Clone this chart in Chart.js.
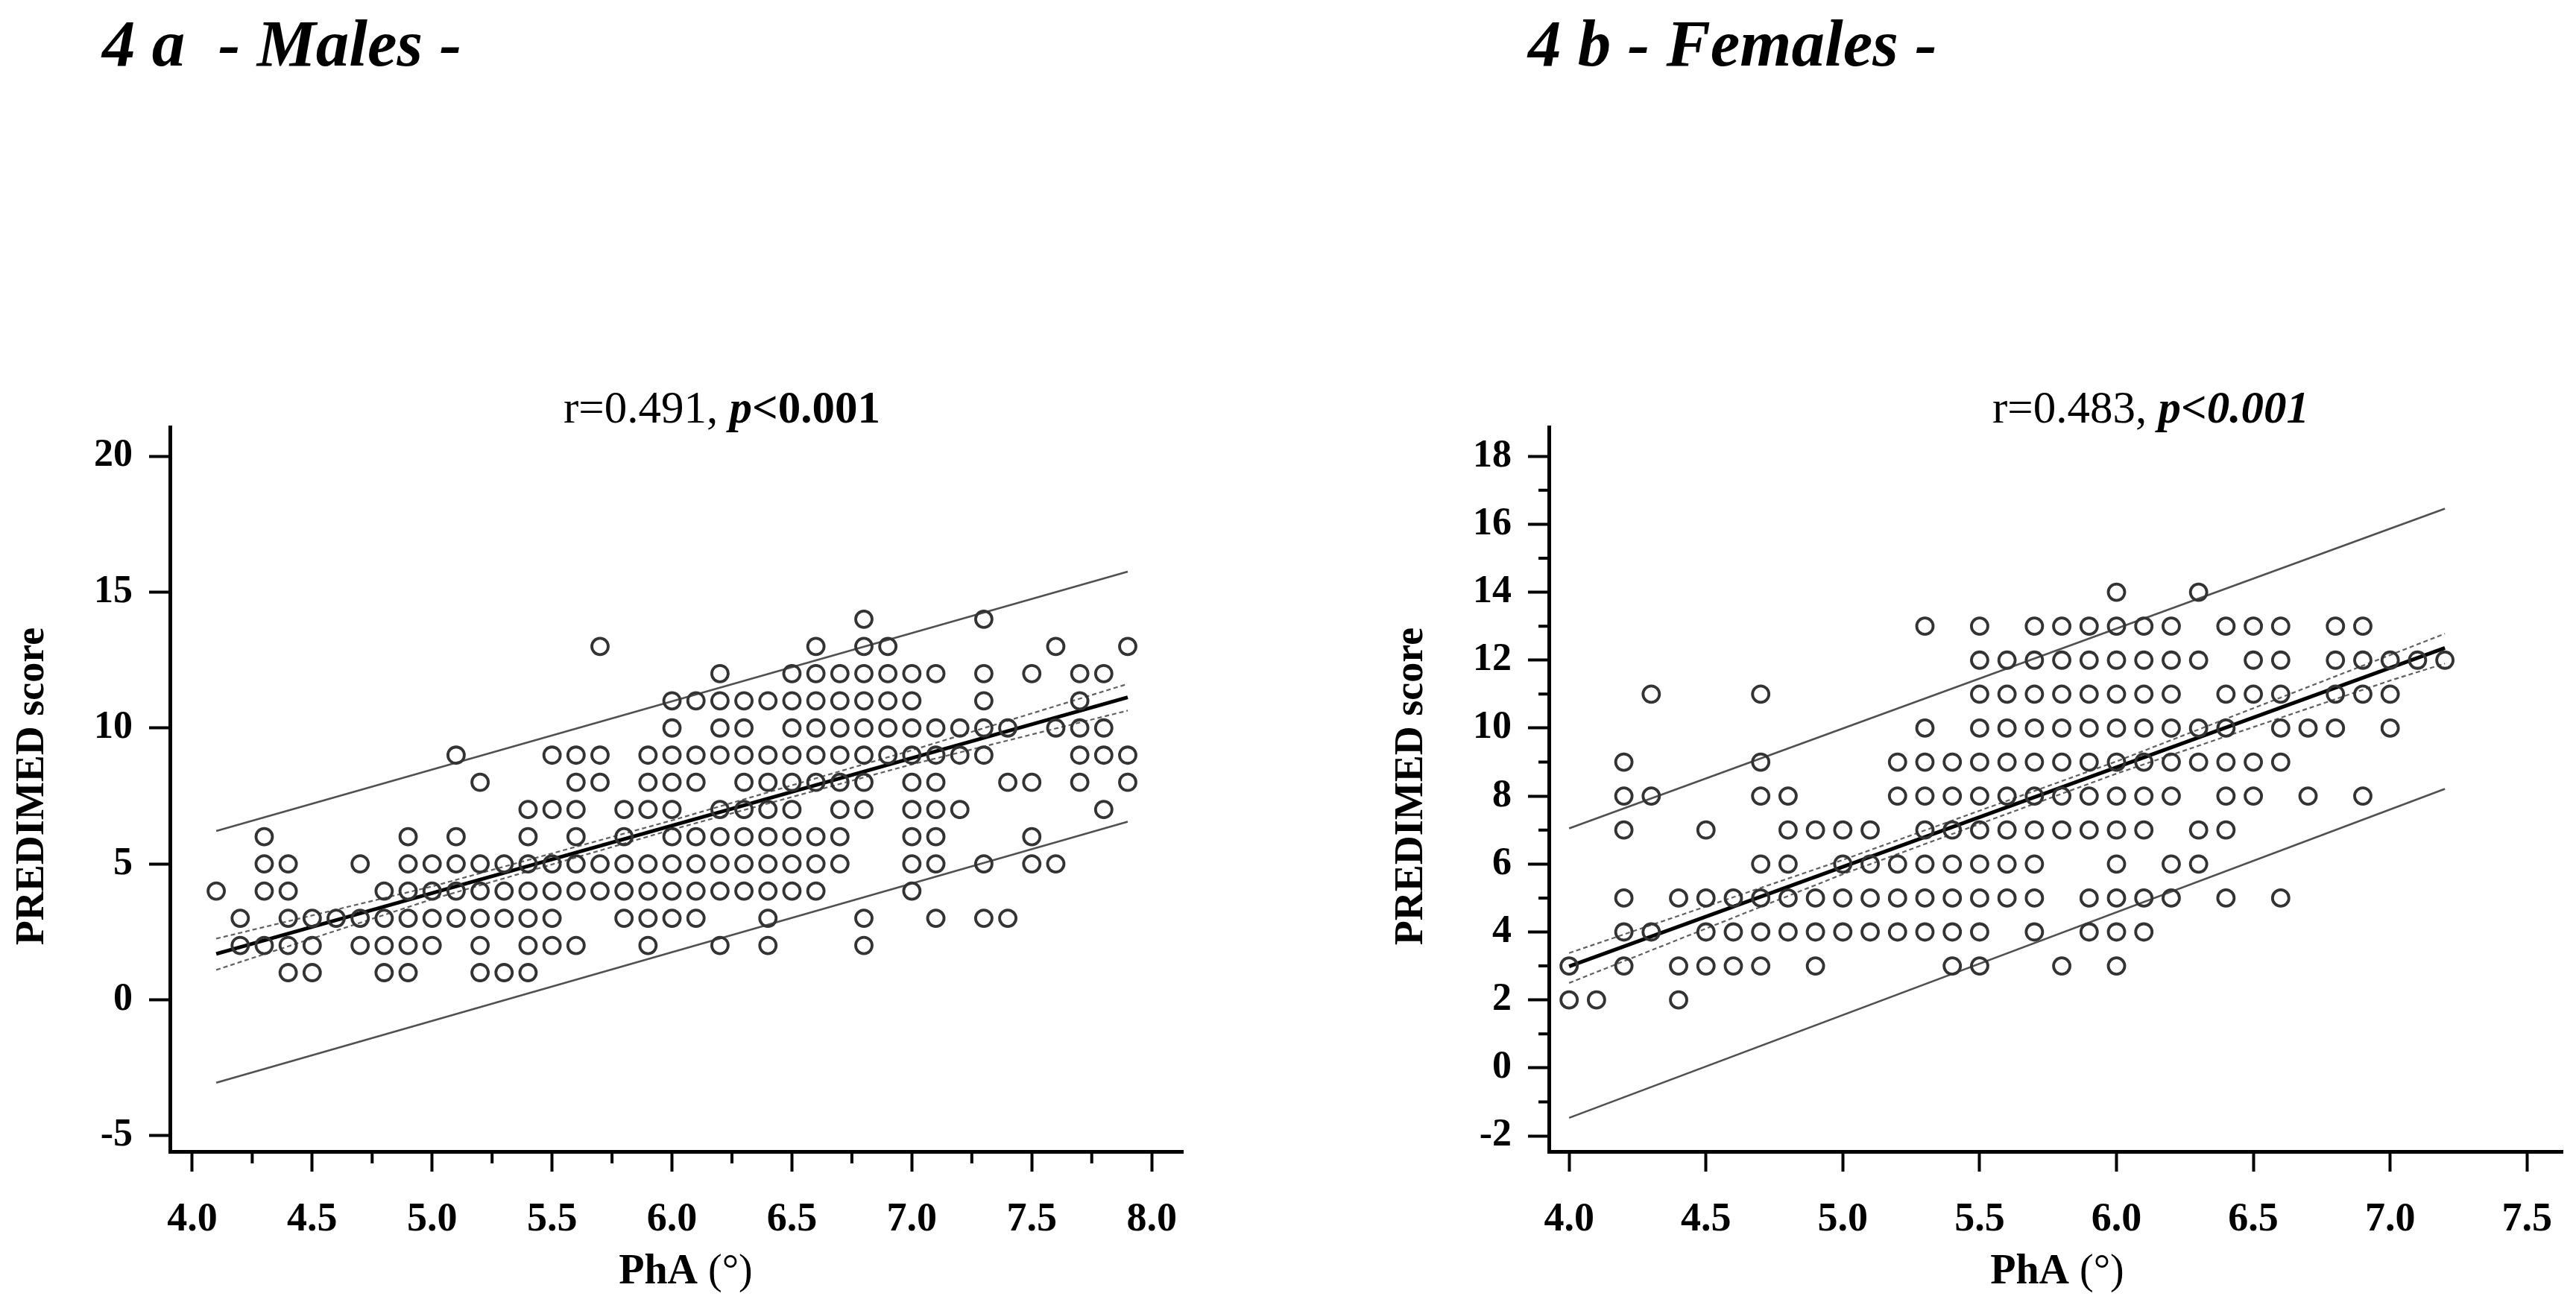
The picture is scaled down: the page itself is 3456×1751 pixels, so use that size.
<!DOCTYPE html>
<html>
<head>
<meta charset="utf-8">
<title>PhA vs PREDIMED score</title>
<script src="https://cdn.jsdelivr.net/npm/chart.js@4.4.1/dist/chart.umd.min.js"></script>
<style>
  html, body { margin: 0; padding: 0; background: #fff; }
  #wrap { position: relative; width: 3456px; height: 1751px; }
  canvas { position: absolute; top: 0; }
  #malesChart { left: 0; }
  #femalesChart { left: 1728px; }
</style>
</head>
<body>
<div id="wrap">
  <canvas id="malesChart" width="1728" height="1751"></canvas>
  <canvas id="femalesChart" width="1728" height="1751"></canvas>
</div>
<script>
// ---- Males (4 a) ----
const maleX = [4.1, 4.2, 4.3, 4.4, 4.5, 4.6, 4.7, 4.8, 4.9, 5.0,
               5.1, 5.2, 5.3, 5.4, 5.5, 5.6, 5.7, 5.8, 5.9, 6.0,
               6.1, 6.2, 6.3, 6.4, 6.5, 6.6, 6.7, 6.8, 6.9, 7.0,
               7.1, 7.2, 7.3, 7.4, 7.5, 7.6, 7.7, 7.8, 7.9];
// PREDIMED scores observed at each PhA value (one circle each)
const maleScores = [
  [4], [3, 2], [6, 5, 4, 2], [5, 4, 3, 2, 1], [3, 2, 1], [3], [5, 3, 2], [4, 3, 2, 1],
  [6, 5, 4, 3, 2, 1], [5, 4, 3, 2], [9, 6, 5, 4, 3], [8, 5, 4, 3, 2, 1], [5, 4, 3, 1],
  [7, 6, 5, 4, 3, 2, 1], [9, 7, 5, 4, 3, 2], [9, 8, 7, 6, 5, 4, 2], [13, 9, 8, 5, 4],
  [7, 6, 5, 4, 3], [9, 8, 7, 5, 4, 3, 2], [11, 10, 9, 8, 7, 6, 5, 4, 3],
  [11, 9, 8, 6, 5, 4, 3], [12, 11, 10, 9, 7, 6, 5, 4, 2], [11, 10, 9, 8, 7, 6, 5, 4],
  [11, 9, 8, 7, 6, 5, 4, 3, 2], [12, 11, 10, 9, 8, 7, 6, 5, 4], [13, 12, 11, 10, 9, 8, 6, 5, 4],
  [12, 11, 10, 9, 8, 7, 6, 5], [14, 13, 12, 11, 10, 9, 8, 7, 3, 2], [13, 12, 11, 10, 9],
  [12, 11, 10, 9, 8, 7, 6, 5, 4], [12, 10, 9, 8, 7, 6, 5, 3], [10, 9, 7],
  [14, 12, 11, 10, 9, 5, 3], [10, 8, 3], [12, 8, 6, 5], [13, 10, 5], [12, 11, 10, 9, 8],
  [12, 10, 9, 7], [13, 9, 8]
];
const maleFitX = [4.1, 7.9];
const maleFit = [1.69, 11.13];
const maleBandX = [4.1, 5.0, 6.0, 7.0, 7.9];
const maleCIUpper = [2.25, 4.17, 6.6, 9.18, 11.62];
const maleCILower = [1.1, 3.7, 6.26, 8.66, 10.64];
const malePIUpper = [6.21, 15.75];
const malePILower = [-3.05, 6.55];
const maleXTicks = [4.0, 4.5, 5.0, 5.5, 6.0, 6.5, 7.0, 7.5, 8.0];
const maleXMinor = [4.25, 4.75, 5.25, 5.75, 6.25, 6.75, 7.25, 7.75];
const maleYTicks = [-5, 0, 5, 10, 15, 20];

// ---- Females (4 b) ----
const femaleX = [4.0, 4.1, 4.2, 4.3, 4.4, 4.5, 4.6, 4.7, 4.8, 4.9, 5.0,
                 5.1, 5.2, 5.3, 5.4, 5.5, 5.6, 5.7, 5.8, 5.9, 6.0,
                 6.1, 6.2, 6.3, 6.4, 6.5, 6.6, 6.7, 6.8, 6.9, 7.0, 7.1, 7.2];
const femaleScores = [
  [3, 2], [2], [9, 8, 7, 5, 4, 3], [11, 8, 4], [5, 3, 2], [7, 5, 4, 3], [5, 4, 3],
  [11, 9, 8, 6, 5, 4, 3], [8, 7, 6, 5, 4], [7, 5, 4, 3], [7, 6, 5, 4], [7, 6, 5, 4],
  [9, 8, 6, 5, 4], [13, 10, 9, 8, 7, 6, 5, 4], [9, 8, 7, 6, 5, 4, 3],
  [13, 12, 11, 10, 9, 8, 7, 6, 5, 4, 3], [12, 11, 10, 9, 8, 7, 6, 5],
  [13, 12, 11, 10, 9, 8, 7, 6, 5, 4], [13, 12, 11, 10, 9, 8, 7, 3],
  [13, 12, 11, 10, 9, 8, 7, 5, 4], [14, 13, 12, 11, 10, 9, 8, 7, 6, 5, 4, 3],
  [13, 12, 11, 10, 9, 8, 7, 5, 4], [13, 12, 11, 10, 9, 8, 6, 5], [14, 12, 10, 9, 7, 6],
  [13, 11, 10, 9, 8, 7, 5], [13, 12, 11, 9, 8], [13, 12, 11, 10, 9, 5], [10, 8],
  [13, 12, 11, 10], [13, 12, 11, 8], [12, 11, 10], [12], [12]
];
const femaleFitX = [4.0, 7.2];
const femaleFit = [2.99, 12.36];
const femaleBandX = [4.0, 5.0, 6.0, 7.0, 7.2];
const femaleCIUpper = [3.38, 6.12, 9.02, 12.15, 12.78];
const femaleCILower = [2.5, 5.7, 8.66, 11.4, 11.9];
const femalePIUpper = [7.05, 16.46];
const femalePILower = [-1.47, 8.21];
const femaleXTicks = [4.0, 4.5, 5.0, 5.5, 6.0, 6.5, 7.0, 7.5];
const femaleYTicks = [-2, 0, 2, 4, 6, 8, 10, 12, 14, 16, 18];
const femaleYMinor = [-1, 1, 3, 5, 7, 9, 11, 13, 15, 17];

const SERIF = "'Liberation Serif', 'Times New Roman', serif";

function toPoints(xs, scores) {
  const pts = [];
  xs.forEach((x, i) => scores[i].forEach(y => pts.push({ x: x, y: y })));
  return pts;
}

function pairUp(xs, ys) {
  return xs.map((x, i) => ({ x: x, y: ys[i] }));
}

function lineSet(points, width, color, dash) {
  return {
    data: points,
    showLine: true,
    borderColor: color,
    borderWidth: width,
    borderDash: dash || [],
    pointRadius: 0,
    pointHoverRadius: 0,
    tension: 0,
    fill: false
  };
}

// Mixed-font labels (titles, r / p, axis titles)
function makeTextPlugin(items) {
  return {
    id: 'panelText',
    afterDraw(chart) {
      const ctx = chart.ctx;
      items.forEach(item => {
        ctx.save();
        ctx.translate(item.x, item.y);
        if (item.rotate) ctx.rotate(item.rotate);
        ctx.fillStyle = '#000';
        ctx.textBaseline = 'alphabetic';
        ctx.textAlign = 'left';
        let total = 0;
        item.parts.forEach(p => { ctx.font = p.font; total += ctx.measureText(p.text).width; });
        let x = item.center ? -total / 2 : 0;
        item.parts.forEach(p => {
          ctx.font = p.font;
          ctx.fillText(p.text, x, 0);
          x += ctx.measureText(p.text).width;
        });
        ctx.restore();
      });
    }
  };
}

// Minor tick marks, placed with the chart's own scales
function makeMinorTicks(xMinor, yMinor) {
  return {
    id: 'minorTicks',
    afterDraw(chart) {
      const ctx = chart.ctx;
      const area = chart.chartArea;
      ctx.save();
      ctx.strokeStyle = '#000';
      ctx.lineWidth = 4;
      ctx.beginPath();
      xMinor.forEach(v => {
        const px = chart.scales.x.getPixelForValue(v);
        ctx.moveTo(px, area.bottom);
        ctx.lineTo(px, area.bottom + 16);
      });
      yMinor.forEach(v => {
        const py = chart.scales.y.getPixelForValue(v);
        ctx.moveTo(area.left, py);
        ctx.lineTo(area.left - 14, py);
      });
      ctx.stroke();
      ctx.restore();
    }
  };
}

function buildChart(canvasId, cfg) {
  const datasets = [
    {
      data: toPoints(cfg.xs, cfg.scores),
      pointStyle: 'circle',
      pointRadius: 11,
      pointHoverRadius: 11,
      pointBorderWidth: 3.8,
      pointBorderColor: '#333',
      pointBackgroundColor: 'rgba(255,255,255,0)',
      showLine: false
    },
    lineSet(pairUp(cfg.fitX, cfg.piUpper), 2.6, '#505050'),
    lineSet(pairUp(cfg.fitX, cfg.piLower), 2.6, '#505050'),
    lineSet(pairUp(cfg.bandX, cfg.ciUpper), 2.2, '#606060', [6, 4]),
    lineSet(pairUp(cfg.bandX, cfg.ciLower), 2.2, '#606060', [6, 4]),
    lineSet(pairUp(cfg.fitX, cfg.fit), 5, '#000')
  ];

  return new Chart(document.getElementById(canvasId), {
    type: 'scatter',
    data: { datasets: datasets },
    options: {
      responsive: false,
      animation: false,
      events: [],
      layout: { padding: cfg.padding },
      plugins: { legend: { display: false }, tooltip: { enabled: false } },
      scales: {
        x: {
          type: 'linear',
          min: cfg.xRange[0],
          max: cfg.xRange[1],
          afterBuildTicks: s => { s.ticks = cfg.xTicks.map(v => ({ value: v })); },
          afterFit: s => { s.height = 206; s.paddingLeft = 0; s.paddingRight = 0; },
          ticks: {
            autoSkip: false,
            maxRotation: 0,
            padding: 33,
            color: '#000',
            font: { family: SERIF, size: 54, weight: 'bold' },
            callback: v => Number(v).toFixed(1)
          },
          grid: { display: true, drawOnChartArea: false, drawTicks: true, tickLength: 27, tickWidth: 4, tickColor: '#000' },
          border: { display: true, color: '#000', width: 5 }
        },
        y: {
          type: 'linear',
          min: cfg.yRange[0],
          max: cfg.yRange[1],
          afterBuildTicks: s => { s.ticks = cfg.yTicks.map(v => ({ value: v })); },
          afterFit: s => { s.width = 228; s.paddingTop = 0; s.paddingBottom = 0; },
          ticks: {
            autoSkip: false,
            padding: 22,
            color: '#000',
            font: { family: SERIF, size: 52, weight: 'bold' },
            callback: v => String(v)
          },
          grid: { display: true, drawOnChartArea: false, drawTicks: true, tickLength: 28, tickWidth: 4, tickColor: '#000' },
          border: { display: true, color: '#000', width: 5 }
        }
      }
    },
    plugins: [makeMinorTicks(cfg.xMinor, cfg.yMinor), makeTextPlugin(cfg.texts)]
  });
}

const titleFont = 'italic bold 89px ' + SERIF;
const statFont = '61px ' + SERIF;
const statBold = 'bold 61px ' + SERIF;
const statBoldItalic = 'italic bold 61px ' + SERIF;
const axisBold = 'bold 56px ' + SERIF;
const axisPlain = '56px ' + SERIF;
const yTitleFont = 'bold 54px ' + SERIF;

buildChart('malesChart', {
  xs: maleX, scores: maleScores,
  fitX: maleFitX, fit: maleFit, piUpper: malePIUpper, piLower: malePILower,
  bandX: maleBandX, ciUpper: maleCIUpper, ciLower: maleCILower,
  xTicks: maleXTicks, yTicks: maleYTicks, xMinor: maleXMinor, yMinor: [],
  xRange: [3.907, 8.13], yRange: [-5.58, 21.07],
  padding: { top: 573, left: 0, right: 141, bottom: 0 },
  texts: [
    { x: 137, y: 88, parts: [{ text: '4 a  - Males -', font: titleFont }] },
    { x: 756, y: 567, parts: [
      { text: 'r=0.491, ', font: statFont },
      { text: 'p', font: statBoldItalic },
      { text: '<0.001', font: statBold }
    ] },
    { x: 920, y: 1722, center: true, parts: [
      { text: 'PhA', font: axisBold },
      { text: ' (°)', font: axisPlain }
    ] },
    { x: 58, y: 1055, center: true, rotate: -Math.PI / 2, parts: [{ text: 'PREDIMED score', font: yTitleFont }] }
  ]
});

buildChart('femalesChart', {
  xs: femaleX, scores: femaleScores,
  fitX: femaleFitX, fit: femaleFit, piUpper: femalePIUpper, piLower: femalePILower,
  bandX: femaleBandX, ciUpper: femaleCIUpper, ciLower: femaleCILower,
  xTicks: femaleXTicks, yTicks: femaleYTicks, xMinor: [], yMinor: femaleYMinor,
  xRange: [3.926, 7.63], yRange: [-2.46, 18.86],
  padding: { top: 573, left: 122, right: 18, bottom: 0 },
  texts: [
    { x: 322, y: 88, parts: [{ text: '4 b - Females -', font: titleFont }] },
    { x: 945, y: 567, parts: [
      { text: 'r=0.483, ', font: statFont },
      { text: 'p<0.001', font: statBoldItalic }
    ] },
    { x: 1032, y: 1722, center: true, parts: [
      { text: 'PhA', font: axisBold },
      { text: ' (°)', font: axisPlain }
    ] },
    { x: 180, y: 1055, center: true, rotate: -Math.PI / 2, parts: [{ text: 'PREDIMED score', font: yTitleFont }] }
  ]
});
</script>
</body>
</html>
